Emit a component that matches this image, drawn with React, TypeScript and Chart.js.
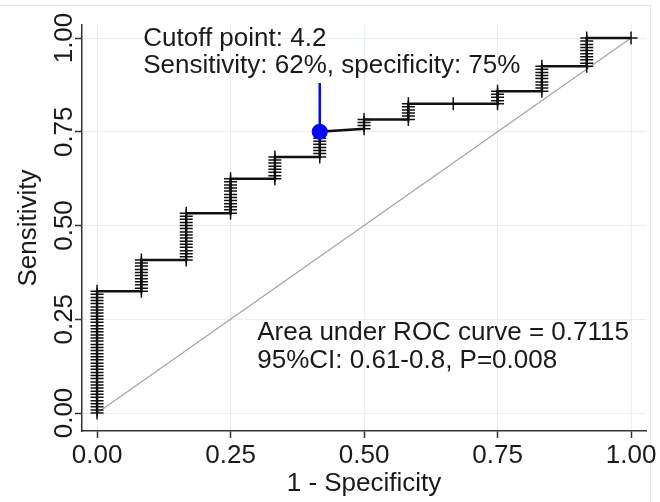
import React, { useEffect, useRef } from "react";
import { Chart, registerables } from "chart.js";

Chart.register(...registerables);

// ---- data ----
const tickValues = [0, 0.25, 0.5, 0.75, 1];
const tickLabels = ["0.00", "0.25", "0.50", "0.75", "1.00"];

// 1 - specificity level of each vertical run of the ROC curve
const fprLevels = [0, 0.083, 0.167, 0.25, 0.333, 0.417, 0.5, 0.583, 0.667, 0.75, 0.833, 0.917, 1];

// sensitivity of every operating point, grouped by 1 - specificity level
const sensRun0 = [0, 0.008, 0.017, 0.025, 0.033, 0.042, 0.05, 0.058, 0.067, 0.075, 0.083, 0.092, 0.1, 0.108, 0.117, 0.125, 0.133, 0.142, 0.15, 0.158, 0.167, 0.175, 0.183, 0.192, 0.2, 0.208, 0.217, 0.225, 0.233, 0.242, 0.25, 0.258, 0.267, 0.275, 0.283, 0.292, 0.3, 0.308, 0.317, 0.325];
const sensRun1 = [0.325, 0.333, 0.342, 0.35, 0.358, 0.367, 0.375, 0.383, 0.392, 0.4, 0.408];
const sensRun2 = [0.408, 0.417, 0.425, 0.433, 0.442, 0.45, 0.458, 0.467, 0.475, 0.483, 0.492, 0.5, 0.508, 0.517, 0.525, 0.533];
const sensRun3 = [0.533, 0.542, 0.55, 0.558, 0.567, 0.575, 0.583, 0.592, 0.6, 0.608, 0.617, 0.625];
const sensRun4 = [0.625, 0.633, 0.642, 0.65, 0.658, 0.667, 0.675, 0.683];
const sensRun5 = [0.683, 0.692, 0.7, 0.708, 0.717, 0.725, 0.733, 0.742, 0.75];
const sensRun6 = [0.758, 0.767, 0.775, 0.783];
const sensRun7 = [0.783, 0.792, 0.8, 0.808, 0.817, 0.825];
const sensRun8 = [0.825];
const sensRun9 = [0.825, 0.833, 0.842, 0.85, 0.858];
const sensRun10 = [0.858, 0.867, 0.875, 0.883, 0.892, 0.9, 0.908, 0.917, 0.925];
const sensRun11 = [0.925, 0.933, 0.942, 0.95, 0.958, 0.967, 0.975, 0.983, 0.992, 1];
const sensRun12 = [1];
const sensRuns = [sensRun0, sensRun1, sensRun2, sensRun3, sensRun4, sensRun5, sensRun6, sensRun7, sensRun8, sensRun9, sensRun10, sensRun11, sensRun12];

const referenceLine = [0, 1];

const cutoffFpr = 0.417;
const cutoffSens = 0.75;
const cutoffStemTop = 0.88;

const cutoffText = ["Cutoff point: 4.2", "Sensitivity: 62%, specificity: 75%"];
const aucText = ["Area under ROC curve = 0.7115", "95%CI: 0.61-0.8, P=0.008"];
const xTitle = "1 - Specificity";
const yTitle = "Sensitivity";

// ---- styling ----
const FONT = '"Liberation Sans", Arial, Helvetica, sans-serif';
const TEXT = "#1a1a1a";
const AXIS = "#333333";
const GRID = "#e8f0f3";

export default function App() {
  const ref = useRef<HTMLCanvasElement | null>(null);

  useEffect(() => {
    if (!ref.current) return;

    const rocPoints: { x: number; y: number }[] = [];
    sensRuns.forEach((run, i) => run.forEach((s) => rocPoints.push({ x: fprLevels[i], y: s })));

    const setTicks = (scale: any) => {
      scale.ticks = tickValues.map((v) => ({ value: v }));
    };

    const overlay = {
      id: "overlay",
      beforeDraw(chart: any) {
        const ctx = chart.ctx;
        ctx.save();
        ctx.fillStyle = "#ffffff";
        ctx.fillRect(0, 0, chart.width, chart.height);
        ctx.strokeStyle = "#e2eaed";
        ctx.lineWidth = 1;
        ctx.beginPath();
        ctx.moveTo(0, 5.5);
        ctx.lineTo(650.5, 5.5);
        ctx.lineTo(650.5, chart.height);
        ctx.stroke();
        ctx.restore();
      },
      afterDraw(chart: any) {
        const ctx = chart.ctx;
        const xs = chart.scales.x;
        const ys = chart.scales.y;
        ctx.save();
        ctx.fillStyle = TEXT;
        ctx.font = `26px ${FONT}`;
        // y tick labels, rotated
        ctx.textAlign = "center";
        ctx.textBaseline = "middle";
        tickValues.forEach((v, i) => {
          ctx.save();
          ctx.translate(ys.right - 17.5, ys.getPixelForValue(v));
          ctx.rotate(-Math.PI / 2);
          ctx.fillText(tickLabels[i], 0, 0);
          ctx.restore();
        });
        // annotations
        ctx.textAlign = "left";
        ctx.textBaseline = "alphabetic";
        const cx = xs.getPixelForValue(0.0865);
        const cy = ys.getPixelForValue(0.98);
        cutoffText.forEach((t, i) => ctx.fillText(t, cx, cy + i * 27.5));
        const ax = xs.getPixelForValue(0.3);
        const ay = ys.getPixelForValue(0.195);
        aucText.forEach((t, i) => ctx.fillText(t, ax, ay + i * 28));
        ctx.restore();
      },
    };

    const chart = new Chart(ref.current, {
      type: "scatter",
      data: {
        datasets: [
          {
            label: "cutoff point",
            data: [{ x: cutoffFpr, y: cutoffSens }],
            pointStyle: "circle",
            pointRadius: 8,
            pointBackgroundColor: "#0a0af0",
            pointBorderColor: "#0a0af0",
            pointBorderWidth: 0,
            showLine: false,
            order: 0,
          },
          {
            label: "cutoff stem",
            data: [
              { x: cutoffFpr, y: cutoffSens },
              { x: cutoffFpr, y: cutoffStemTop },
            ],
            showLine: true,
            borderColor: "#0a0af0",
            borderWidth: 2.5,
            pointRadius: 0,
            order: 1,
          },
          {
            label: "ROC",
            data: rocPoints,
            showLine: true,
            borderColor: "#111111",
            borderWidth: 2.5,
            pointStyle: "cross",
            pointRadius: 6.5,
            pointBorderWidth: 1.5,
            pointBorderColor: "#111111",
            pointBackgroundColor: "#111111",
            order: 2,
          },
          {
            label: "reference",
            data: referenceLine.map((v) => ({ x: v, y: v })),
            showLine: true,
            borderColor: "#a3a3a3",
            borderWidth: 1.2,
            pointRadius: 0,
            order: 3,
          },
        ],
      },
      options: {
        responsive: false,
        animation: false,
        events: [],
        layout: { padding: { left: 0, right: 14, top: 25, bottom: 0 } },
        plugins: { legend: { display: false }, tooltip: { enabled: false } },
        scales: {
          x: {
            type: "linear",
            min: -0.0282,
            max: 1.028,
            afterBuildTicks: setTicks,
            afterFit: (s: any) => {
              s.height = 71;
            },
            border: { display: true, color: AXIS, width: 1.5 },
            grid: {
              color: GRID,
              lineWidth: 1,
              drawTicks: true,
              tickLength: 7,
              tickColor: AXIS,
              tickWidth: 1.5,
            },
            ticks: {
              color: TEXT,
              font: { family: FONT, size: 26 },
              padding: 2,
              maxRotation: 0,
              minRotation: 0,
              callback: (v: any) => tickLabels[tickValues.indexOf(Number(v))] ?? "",
            },
            title: {
              display: true,
              text: xTitle,
              color: TEXT,
              font: { family: FONT, size: 26 },
              padding: { top: 0, bottom: 3 },
            },
          },
          y: {
            type: "linear",
            min: -0.048,
            max: 1.0347,
            afterBuildTicks: setTicks,
            afterFit: (s: any) => {
              s.width = 82;
            },
            border: { display: true, color: AXIS, width: 1.5 },
            grid: {
              color: GRID,
              lineWidth: 1,
              drawTicks: true,
              tickLength: 7,
              tickColor: AXIS,
              tickWidth: 1.5,
            },
            ticks: { display: false },
            title: {
              display: true,
              text: yTitle,
              color: TEXT,
              font: { family: FONT, size: 26 },
              padding: { top: 13, bottom: 0 },
            },
          },
        },
      },
      plugins: [overlay],
    });

    return () => chart.destroy();
  }, []);

  return (
    <div style={{ position: "absolute", left: 0, top: 0, width: 660, height: 502, background: "#fff" }}>
      <canvas ref={ref} width={660} height={502} />
    </div>
  );
}
